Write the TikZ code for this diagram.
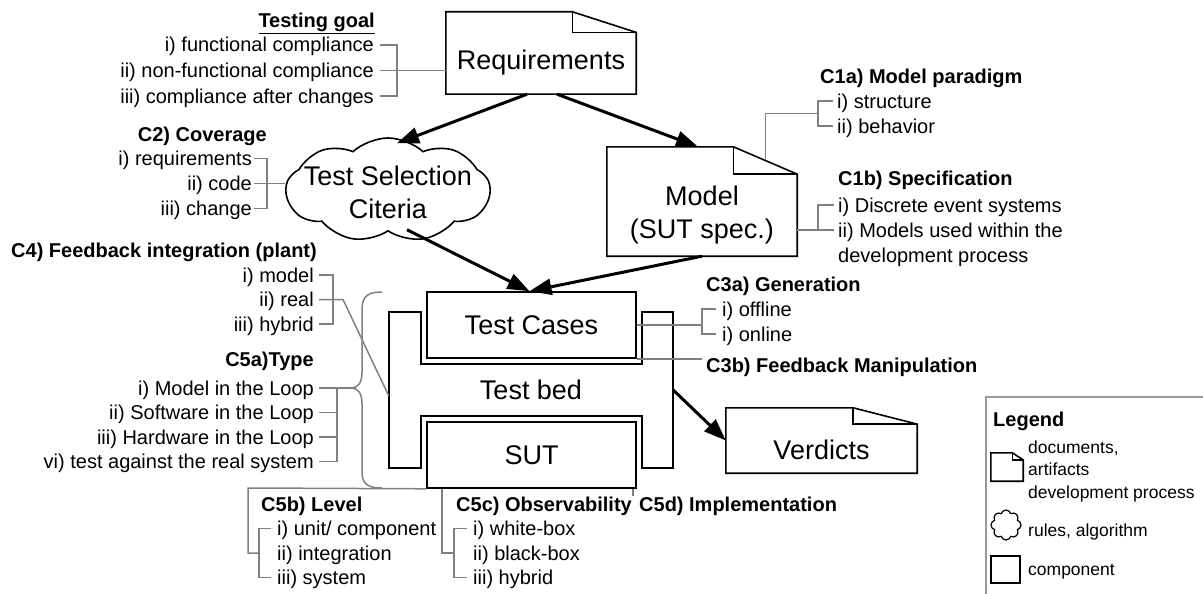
\documentclass[tikz,border=0pt]{standalone}
\usepackage{fontspec}
\setmainfont{Liberation Sans}
\setsansfont{Liberation Sans}
\usepackage{tikz}
\usetikzlibrary{arrows.meta}
\usetikzlibrary{shapes.symbols}
\usetikzlibrary{calc}

\newcommand\bigsz{\fontsize{27}{33}\selectfont}
\newcommand\lblsz{\fontsize{20}{25.5}\selectfont}
\newcommand\legsz{\fontsize{17.5}{22.5}\selectfont}

% folded-corner outline around a (empty) document node
\newcommand\docframe[1]{%
  \draw[docline] (#1.south west) -- (#1.north west)
    -- ($(#1.north west)!0.665!(#1.north east)$) coordinate (#1-f1)
    -- ($(#1.north east)!0.25!(#1.south east)$) coordinate (#1-f2)
    -- (#1.south east) -- cycle;
  \draw[docline] (#1-f1) |- (#1-f2);
  \coordinate (#1-fm) at ($(#1-f1)!0.5!(#1-f2)$);}

\begin{document}
\begin{tikzpicture}[x=1pt,y=-1pt,
  box/.style={draw, line width=1.6pt, minimum width=209pt, minimum height=66pt, inner sep=0pt, font=\bigsz},
  doc/.style={minimum width=190pt, inner sep=0pt},
  docline/.style={line width=1.6pt},
  lbl/.style={inner sep=0pt, font=\lblsz, text height=15pt, text depth=1pt},
  hd/.style={lbl, font=\lblsz\bfseries},
  gline/.style={draw=black!50, line width=1.5pt},
  flow/.style={line width=3pt, -{Triangle[length=22pt,width=16pt]}}
  ]
  \useasboundingbox (0,0) rectangle (1203,594);

  % documents and criteria
  \node[doc, minimum height=82pt, label={[font=\bigsz, yshift=-10pt]center:Requirements}] (req) at (541,53) {};
  \docframe{req}
  \node[doc, minimum height=109pt, label={[font=\bigsz, align=center, yshift=-13.5pt]center:Model\\(SUT spec.)}] (model) at (702,201.5) {};
  \docframe{model}
  \node[doc, minimum width=191pt, minimum height=65pt, label={[font=\bigsz, yshift=-9.5pt]center:Verdicts}] (verd) at (821.5,440.5) {};
  \docframe{verd}
  \node[cloud, draw, line width=1.6pt, cloud puffs=9, cloud puff arc=85, aspect=2,
    minimum width=204pt, minimum height=104pt, inner sep=0pt,
    label={[font=\bigsz, align=center, yshift=-2pt]center:Test Selection\\Citeria}] (tsc) at (388,190) {};

  % test bed with test cases and SUT
  \node[minimum width=284pt, minimum height=156pt, font=\bigsz] (tb) at (531,390) {Test bed};
  \draw[docline] (389,312) -- (421,312) -- (421,364) -- (642,364) -- (642,312) -- (673,312)
    -- (673,468) -- (642,468) -- (642,416) -- (421,416) -- (421,468) -- (389,468) -- cycle;
  \node[box, fill=white] (tc) at (531.5,325) {Test Cases};
  \node[box, fill=white] (sut) at (531.5,455) {SUT};

  \draw[flow] ([xshift=-14pt]req.south) -- ([xshift=9pt,yshift=-6pt]tsc.north);
  \draw[flow] ([xshift=16pt]req.south) -- ([xshift=-4pt]model.north);
  \draw[flow] ([xshift=19pt,yshift=2pt]tsc.south) -- ([xshift=-2pt]tc.north);
  \draw[flow] (model.south) -- ([xshift=-2pt]tc.north);
  \draw[flow] (tb.east) -- (verd.west);

  % testing goal
  \node[hd, anchor=east] (goal) at (375,21) {\underline{Testing goal}};
  \foreach \t [count=\i] in {i) functional compliance, ii) non-functional compliance, iii) compliance after changes}
    \node[lbl, anchor=east] (g\i) at (374,19.5+25.5*\i) {\t};
  \draw[gline] ([xshift=6pt]g1.east) -| ([xshift=23pt]g2.east) |- ([xshift=6pt]g3.east);
  \draw[gline] ([xshift=6pt]g2.east) -- (g2.east -| req.west);

  % C2
  \node[hd, anchor=east] (c2) at (267,135) {C2) Coverage};
  \foreach \t [count=\i] in {i) requirements, ii) code, iii) change}
    \node[lbl, anchor=east] (c2\i) at (252,133.5+25*\i) {\t};
  \draw[gline] ([xshift=2pt]c21.east) -| ([xshift=15pt]c22.east) |- ([xshift=2pt]c23.east);
  \draw[gline] ([xshift=2pt]c22.east) -- (c22.east -| tsc.west);

  % C1a, C1b
  \node[hd, anchor=west] (c1a) at (820,77) {C1a) Model paradigm};
  \foreach \t [count=\i] in {i) structure, ii) behavior}
    \node[lbl, anchor=west] (c1a\i) at (837,76+25*\i) {\t};
  \draw[gline] ([xshift=-4pt]c1a1.west) -| ([xshift=-19pt]c1a2.west) -- ([xshift=-4pt]c1a2.west);
  \draw[gline] ($(c1a1.west)!0.5!(c1a2.west)+(-19,0)$) -| (model-fm);

  \node[hd, anchor=west] (c1b) at (838,178) {C1b) Specification};
  \foreach \t [count=\i] in {i) Discrete event systems, ii) Models used within the, development process}
    \node[lbl, anchor=west] (c1b\i) at (838,180+25*\i) {\t};
  \draw[gline] ([xshift=-4pt]c1b1.west) -| ([xshift=-20pt]c1b2.west) -- ([xshift=-4pt]c1b2.west);
  \draw[gline] (model.east |- c1b2.west) -- ([xshift=-20pt]c1b2.west);

  % C3a, C3b
  \node[hd, anchor=west] (c3a) at (706,284) {C3a) Generation};
  \foreach \t [count=\i] in {i) offline, i) online}
    \node[lbl, anchor=west] (c3a\i) at (722,284+25*\i) {\t};
  \draw[gline] ([xshift=-6pt]c3a1.west) -| ([xshift=-20pt]c3a2.west) -- ([xshift=-6pt]c3a2.west);
  \draw[gline] (tc.east) -- ([xshift=-20pt]c3a1.west |- tc.east);
  \node[hd, anchor=west] (c3b) at (706,365) {C3b) Feedback Manipulation};
  \draw[gline] (tc.south east) -- ([xshift=-4pt]c3b.west |- tc.south east);

  % C4
  \node[hd, anchor=east] (c4) at (317,250) {C4) Feedback integration (plant)};
  \foreach \t [count=\i] in {i) model, ii) real, iii) hybrid}
    \node[lbl, anchor=east] (c4\i) at (314,250.5+24.5*\i) {\t};
  \draw[gline] ([xshift=5pt]c41.east) -| ([xshift=19pt]c42.east) |- ([xshift=5pt]c43.east);
  \draw[gline] ([xshift=5pt]c42.east) -- ([xshift=29pt]c42.east) -- ([yshift=-6pt]tb.west);

  % C5a with brace
  \node[hd, anchor=east] (c5a) at (314,359) {C5a)Type};
  \foreach \t [count=\i] in {i) Model in the Loop, ii) Software in the Loop, iii) Hardware in the Loop, vi) test against the real system}
    \node[lbl, anchor=east] (c5a\i) at (314,363.5+24.5*\i) {\t};
  \draw[gline] ([xshift=5pt]c5a1.east) -| ([xshift=23pt]c5a4.east) -- ([xshift=5pt]c5a4.east);
  \foreach \i in {2,3}
    \draw[gline] ([xshift=5pt]c5a\i.east) -- ([xshift=23pt]c5a\i.east);
  \coordinate (btip) at (351,388);
  \draw[gline] ([xshift=23pt]c5a1.east) -- (btip);
  \draw[gline] (382,292) .. controls (368,292) and (362,296) .. (362,310) -- (362,372)
    .. controls (362,383) and (358,388) .. (btip) .. controls (358,388) and (362,393) .. (362,404)
    -- (362,472) .. controls (362,484) and (368,488) .. (382,488);

  % C5b, C5c, C5d
  \node[hd, anchor=west] (c5b) at (261,504) {C5b) Level};
  \foreach \t [count=\i] in {i) unit/ component, ii) integration, iii) system}
    \node[lbl, anchor=west] (c5b\i) at (277,504+24.5*\i) {\t};
  \draw[gline] ([xshift=-6pt]c5b1.west) -| ([xshift=-18pt]c5b2.west) |- ([xshift=-6pt]c5b3.west);
  \coordinate (c5bc) at (248,488);
  \draw[gline] (sut.south west) -- (c5bc) |- ([xshift=-18pt]c5b2.west);

  \node[hd, anchor=west] (c5c) at (456,504) {C5c) Observability};
  \foreach \t [count=\i] in {i) white-box, ii) black-box, iii) hybrid}
    \node[lbl, anchor=west] (c5c\i) at (473,504+24.5*\i) {\t};
  \draw[gline] ([xshift=-6pt]c5c1.west) -| ([xshift=-19pt]c5c2.west) |- ([xshift=-6pt]c5c3.west);
  \draw[gline] ([xshift=16pt]sut.south west) |- ([xshift=-19pt]c5c2.west);

  \node[hd, anchor=west] (c5d) at (639,504) {C5d) Implementation};
  \draw[gline] ([xshift=-4pt]sut.south east) -- ([xshift=-4pt]sut.south east |- c5d.north);

  % legend
  \draw[draw=black!40, line width=1.2pt] (1203,397) -| (986,594);
  \node[hd, anchor=west] (leg) at (993,419) {Legend};
  \node[doc, minimum width=32pt, minimum height=28pt] (legdoc) at (1007,467) {};
  \docframe{legdoc}
  \node[anchor=west, inner sep=0pt, font=\legsz, align=left] (legdoctxt) at (1028,471) {documents,\\artifacts\\development process};
  \node[cloud, draw, line width=1.2pt, cloud puffs=8, minimum width=30pt, minimum height=30pt, inner sep=0pt] (legcld) at (1006,525) {};
  \node[anchor=west, inner sep=0pt, font=\legsz] (legcldtxt) at (1028,532) {rules, algorithm};
  \node[draw, line width=1.2pt, minimum width=29pt, minimum height=27pt, inner sep=0pt] (legcmp) at (1005.5,569.5) {};
  \node[anchor=west, inner sep=0pt, font=\legsz] (legcmptxt) at (1028,572) {component};
\end{tikzpicture}
\end{document}
